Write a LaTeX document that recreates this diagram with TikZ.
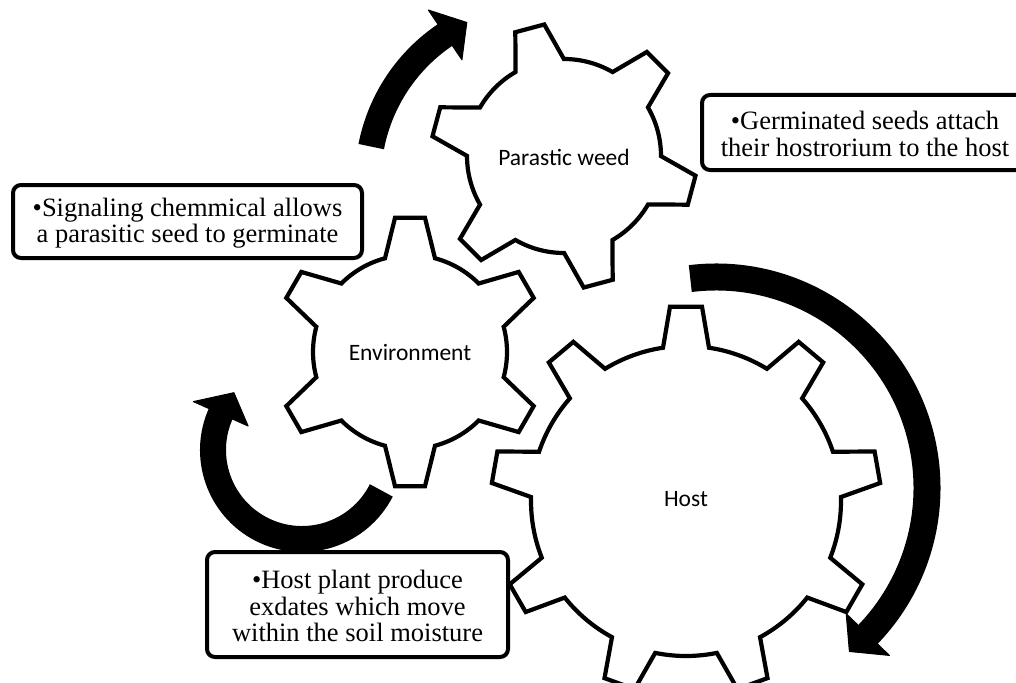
\documentclass[tikz,border=0pt]{standalone}
\usepackage{fontspec}
\setmainfont{Liberation Serif}
\newfontfamily\gearfont{Carlito}
\usetikzlibrary{calc}
% gear: cx, cy, teeth, inner r, outer r, first tooth angle, base half-width, tip half-width
\newcommand\mygear[8]{%
 \begin{scope}[shift={(#1,#2)}]
  \pgfmathsetmacro\gstep{360/#3}
  \pgfmathsetmacro\gbb{asin(#7/#4)}
  \pgfmathsetmacro\gbo{asin(#8/#5)}
  \pgfmathtruncatemacro\glast{#3-1}
  \path[gearline] ({#6-\gbb}:#4)
   \foreach \k in {0,...,\glast} {
     -- ({#6+\k*\gstep-\gbo}:#5) -- ({#6+\k*\gstep+\gbo}:#5) -- ({#6+\k*\gstep+\gbb}:#4)
     arc[start angle={#6+\k*\gstep+\gbb}, end angle={#6+(\k+1)*\gstep-\gbb}, radius=#4]
   } -- cycle;
 \end{scope}}
% circular arrow: cx, cy, r, start angle, end angle, body width
\newcommand\circarrow[6]{%
 \begin{scope}[shift={(#1,#2)}]
  \pgfmathsetmacro\adelta{25/#3*180/pi}
  \draw[line width=#6pt, line cap=butt] (#4:#3) arc[start angle=#4, end angle={#5+1}, radius=#3];
  \filldraw[line width=1pt, line join=round] (#5:{#3-30}) -- (#5:{#3+30}) -- ({#5+\adelta}:#3) -- cycle;
 \end{scope}}
\begin{document}
\begin{tikzpicture}[x=1pt,y=-1pt,
  gearline/.style={draw=black, line width=4.2pt, fill=white, line join=miter},
  gearlabel/.style={font=\gearfont\fontsize{23.5}{28}\selectfont, inner sep=0pt},
  notebox/.style={draw=black, line width=4pt, rounded corners=8pt, fill=white, inner sep=0pt},
  notetext/.style={align=center, inner sep=0pt, font=\fontsize{26.5}{26.5}\selectfont}]
\useasboundingbox (0,0) rectangle (1016,682);
\clip (0,0) rectangle (1016,682);
\fill[white] (0,0) rectangle (1016,682);

% gears
\mygear{564}{156}{6}{97}{133}{15}{25}{15}
\mygear{410}{352}{6}{97}{135}{30}{25}{15}
\mygear{686}{501}{9}{155}{195}{30}{23}{16}

\node[gearlabel] (weedlabel) at (564,157) {Parastic weed};
\node[gearlabel] (envlabel) at (410,352) {Environment};
\node[gearlabel] (hostlabel) at (686,499) {Host};

% arrows
\circarrow{543}{180}{175}{191}{236}{26}
\circarrow{302}{450}{89}{27}{204}{26}
\circarrow{716}{488}{211}{-97}{44}{27}

% note boxes
\node[notebox, minimum width=349pt, minimum height=73pt] (note1) at (187.5,221.5) {};
\node[notetext] (note1text) at (187.5,223) {•Signaling chemmical allows\\a parasitic seed to germinate};
\coordinate (n2a) at (1080,95);
\coordinate (n2b) at (702,95);
\coordinate (n2c) at (702,170);
\coordinate (n2d) at (1080,170);
\draw[notebox] (n2a) -- (n2b) -- (n2c) -- (n2d);
\node[notetext] (note2text) at (865,134) {•Germinated seeds attach\\their hostrorium to the host};
\node[notebox, minimum width=301pt, minimum height=105pt] (note3) at (357.5,604.5) {};
\node[notetext] (note3text) at (357.5,606) {•Host plant produce\\exdates which move\\within the soil moisture};
\end{tikzpicture}
\end{document}
